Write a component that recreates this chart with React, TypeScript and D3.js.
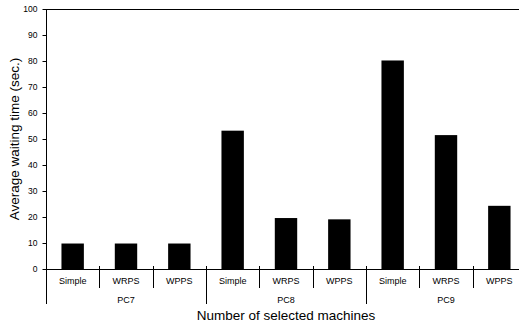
import React, { useEffect, useRef } from 'react';
import * as d3 from 'd3';

const groups = ['PC7', 'PC8', 'PC9'];
const methods = ['Simple', 'WRPS', 'WPPS'];
const waiting = [
  [9.8, 9.8, 9.8],
  [53.2, 19.6, 19.1],
  [80.2, 51.5, 24.3],
];
const yTicks = [0, 10, 20, 30, 40, 50, 60, 70, 80, 90, 100];

const App: React.FC = () => {
  const svgRef = useRef<SVGSVGElement | null>(null);

  useEffect(() => {
    if (!svgRef.current) return;
    const svg = d3.select(svgRef.current);
    svg.selectAll('*').remove();

    const width = 519;
    const height = 324;
    const margin = { top: 9, right: -7, bottom: 55, left: 46 };
    const font = "'Liberation Sans', Arial, sans-serif";

    const y0 = height - margin.bottom;
    const y = d3.scaleLinear().domain([0, 100]).range([y0, margin.top]);

    const cats = groups.flatMap(g => methods.map(m => `${g}|${m}`));
    const x = d3.scaleBand<string>()
      .domain(cats)
      .range([margin.left, width - margin.right])
      .paddingInner(0.58)
      .paddingOuter(0.29);
    const step = x.step();
    const left = margin.left;

    const data = groups.flatMap((g, gi) => methods.map((m, mi) => ({ key: `${g}|${m}`, v: waiting[gi][mi] })));

    // bars
    svg.append('g')
      .selectAll('rect')
      .data(data)
      .join('rect')
      .attr('x', d => x(d.key)!)
      .attr('width', x.bandwidth())
      .attr('y', d => y(d.v))
      .attr('height', d => y0 - y(d.v))
      .attr('fill', '#000');

    // top border
    svg.append('line')
      .attr('x1', left).attr('x2', width)
      .attr('y1', y(100) + 0.5).attr('y2', y(100) + 0.5)
      .attr('stroke', '#000');

    // y axis
    const yAxis = svg.append('g')
      .attr('transform', `translate(${left + 0.5},0)`)
      .call(d3.axisLeft(y).tickValues(yTicks).tickSize(4).tickSizeOuter(0).tickPadding(5));
    yAxis.select('.domain').remove();
    yAxis.selectAll('line').attr('stroke', '#000');
    yAxis.selectAll('text').attr('font-family', font).attr('font-size', 8.5).attr('fill', '#000');

    // left line
    svg.append('line')
      .attr('x1', left + 0.5).attr('x2', left + 0.5)
      .attr('y1', margin.top).attr('y2', 304)
      .attr('stroke', '#000');

    // baseline
    svg.append('line')
      .attr('x1', left).attr('x2', width)
      .attr('y1', y0 + 0.5).attr('y2', y0 + 0.5)
      .attr('stroke', '#000');

    // separators
    cats.forEach((c, i) => {
      if (i === 0) return;
      const sx = Math.round(left + i * step) + 0.5;
      const isGroup = i % methods.length === 0;
      svg.append('line')
        .attr('x1', sx).attr('x2', sx)
        .attr('y1', y0 - 3).attr('y2', isGroup ? 304 : 288)
        .attr('stroke', '#000');
    });

    // method labels
    svg.append('g')
      .selectAll('text')
      .data(cats)
      .join('text')
      .attr('x', d => x(d)! + x.bandwidth() / 2)
      .attr('y', 284)
      .attr('text-anchor', 'middle')
      .attr('font-family', font)
      .attr('font-size', 9)
      .text(d => d.split('|')[1]);

    // group labels
    svg.append('g')
      .selectAll('text')
      .data(groups)
      .join('text')
      .attr('x', (_, i) => left + (i * methods.length + methods.length / 2) * step)
      .attr('y', 303)
      .attr('text-anchor', 'middle')
      .attr('font-family', font)
      .attr('font-size', 9)
      .text(d => d);

    svg.append('text')
      .attr('x', left + (cats.length / 2) * step)
      .attr('y', 320)
      .attr('text-anchor', 'middle')
      .attr('font-family', font)
      .attr('font-size', 13.5)
      .text('Number of selected machines');

    svg.append('text')
      .attr('transform', `translate(19,${(margin.top + y0) / 2}) rotate(-90)`)
      .attr('text-anchor', 'middle')
      .attr('font-family', font)
      .attr('font-size', 13.5)
      .text('Average waiting time (sec.)');
  }, []);

  return (
    <svg
      ref={svgRef}
      width={519}
      height={324}
      style={{ position: 'absolute', left: 0, top: 0, background: '#fff' }}
    />
  );
};

export default App;
